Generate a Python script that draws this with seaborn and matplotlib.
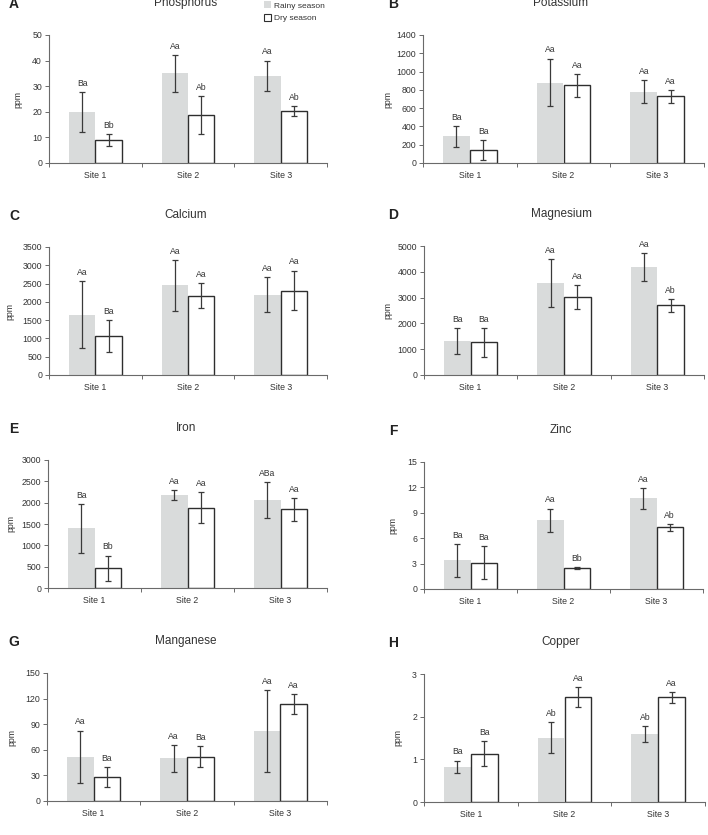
import numpy as np
import pandas as pd
import matplotlib
matplotlib.use("Agg")
import matplotlib.pyplot as plt
from matplotlib.patches import Patch
import seaborn as sns

sites = ["Site 1", "Site 2", "Site 3"]
seasons = ["Rainy season", "Dry season"]

minerals = ["Phosphorus", "Potassium", "Calcium", "Magnesium",
            "Iron", "Zinc", "Manganese", "Copper"]
letters = ["A", "B", "C", "D", "E", "F", "G", "H"]
ymax = [50, 1400, 3500, 5000, 3000, 15, 150, 3]
ystep = [10, 200, 500, 1000, 500, 3, 30, 1]

phosphorus_rainy = [20, 35, 34]
phosphorus_rainy_err = [7.8, 7.3, 6]
phosphorus_dry = [9, 18.8, 20.3]
phosphorus_dry_err = [2.4, 7.4, 2]
phosphorus_lbl = [["Ba", "Aa", "Aa"], ["Bb", "Ab", "Ab"]]

potassium_rainy = [290, 880, 780]
potassium_rainy_err = [118, 262, 125]
potassium_dry = [140, 850, 730]
potassium_dry_err = [112, 125, 70]
potassium_lbl = [["Ba", "Aa", "Aa"], ["Ba", "Aa", "Aa"]]

calcium_rainy = [1650, 2450, 2200]
calcium_rainy_err = [920, 700, 480]
calcium_dry = [1060, 2170, 2310]
calcium_dry_err = [440, 345, 545]
calcium_lbl = [["Aa", "Aa", "Aa"], ["Ba", "Aa", "Aa"]]

magnesium_rainy = [1320, 3580, 4180]
magnesium_rainy_err = [505, 925, 535]
magnesium_dry = [1270, 3010, 2700]
magnesium_dry_err = [560, 465, 245]
magnesium_lbl = [["Ba", "Aa", "Aa"], ["Ba", "Aa", "Ab"]]

iron_rainy = [1400, 2180, 2060]
iron_rainy_err = [570, 110, 420]
iron_dry = [460, 1880, 1840]
iron_dry_err = [300, 360, 275]
iron_lbl = [["Ba", "Aa", "ABa"], ["Bb", "Aa", "Aa"]]

zinc_rainy = [3.4, 8.1, 10.7]
zinc_rainy_err = [1.95, 1.4, 1.25]
zinc_dry = [3.1, 2.45, 7.3]
zinc_dry_err = [1.95, 0.1, 0.4]
zinc_lbl = [["Ba", "Aa", "Aa"], ["Ba", "Bb", "Ab"]]

manganese_rainy = [52, 50, 82]
manganese_rainy_err = [30.5, 16, 47.5]
manganese_dry = [28, 52, 114]
manganese_dry_err = [12, 12, 11.5]
manganese_lbl = [["Aa", "Aa", "Aa"], ["Ba", "Ba", "Aa"]]

copper_rainy = [0.82, 1.51, 1.59]
copper_rainy_err = [0.15, 0.36, 0.19]
copper_dry = [1.13, 2.45, 2.45]
copper_dry_err = [0.29, 0.235, 0.125]
copper_lbl = [["Ba", "Ab", "Ab"], ["Ba", "Aa", "Aa"]]

panels = [
    (phosphorus_rainy, phosphorus_rainy_err, phosphorus_dry, phosphorus_dry_err, phosphorus_lbl),
    (potassium_rainy, potassium_rainy_err, potassium_dry, potassium_dry_err, potassium_lbl),
    (calcium_rainy, calcium_rainy_err, calcium_dry, calcium_dry_err, calcium_lbl),
    (magnesium_rainy, magnesium_rainy_err, magnesium_dry, magnesium_dry_err, magnesium_lbl),
    (iron_rainy, iron_rainy_err, iron_dry, iron_dry_err, iron_lbl),
    (zinc_rainy, zinc_rainy_err, zinc_dry, zinc_dry_err, zinc_lbl),
    (manganese_rainy, manganese_rainy_err, manganese_dry, manganese_dry_err, manganese_lbl),
    (copper_rainy, copper_rainy_err, copper_dry, copper_dry_err, copper_lbl),
]

sns.set_theme(style="white")
plt.rcParams["font.family"] = ["Liberation Sans", "DejaVu Sans"]

W, H = 708, 835
fig = plt.figure(figsize=(W / 100, H / 100), dpi=100)

# axes boxes in pixels: left, top, right, bottom
boxes = [(49, 35, 327, 163), (423, 35, 704, 163),
         (49, 247, 327, 375), (424, 246, 704, 375),
         (48, 460, 327, 588), (424, 462, 703, 589),
         (47, 673, 327, 801), (424, 674, 705, 802)]
ylab_x = [22, 392, 14, 392, 15, 397, 16, 402]

grey = "#d9dbdb"
edge = "#2e2e2e"
axcol = "#6a6a6a"
txt = "#333333"

for i, (rv, re, dv, de, lbl) in enumerate(panels):
    l, t, r, b = boxes[i]
    ax = fig.add_axes([l / W, 1 - b / H, (r - l) / W, (b - t) / H])
    df = pd.DataFrame({
        "site": sites * 2,
        "season": [seasons[0]] * 3 + [seasons[1]] * 3,
        "value": rv + dv,
    })
    sns.barplot(data=df, x="site", y="value", hue="season", order=sites,
                hue_order=seasons, palette=[grey, "white"], width=0.57,
                errorbar=None, saturation=1, legend=False, ax=ax)
    for k, (cont, errs) in enumerate(zip(ax.containers, [re, de])):
        xs = [p.get_x() + p.get_width() / 2 for p in cont.patches]
        ys = [p.get_height() for p in cont.patches]
        for p in cont.patches:
            if k == 1:
                p.set_edgecolor(edge)
                p.set_linewidth(1.0)
            else:
                p.set_edgecolor("none")
        ax.errorbar(xs, ys, yerr=errs, fmt="none", ecolor="#3a3a3a",
                    elinewidth=0.9, capsize=2, capthick=0.9, zorder=5)
        for x, y, e, s in zip(xs, ys, errs, lbl[k]):
            ax.annotate(s, (x, y + e), xytext=(0, 3), textcoords="offset points",
                        ha="center", va="bottom", fontsize=6.2, color=txt)

    ax.set_ylim(0, ymax[i])
    ax.set_yticks(np.arange(0, ymax[i] + ystep[i] / 2, ystep[i]))
    ax.set_xlim(-0.5, 2.5)
    ax.set_xticks([0, 1, 2])
    ax.set_xticks([-0.5, 0.5, 1.5, 2.5], minor=True)
    ax.tick_params(axis="x", which="major", length=0, labelsize=6.3,
                   colors=txt, pad=6)
    ax.tick_params(axis="x", which="minor", length=3, width=0.7,
                   color=axcol, direction="out", bottom=True)
    ax.tick_params(axis="y", length=3, width=0.7, color=axcol,
                   labelsize=6.3, labelcolor=txt, pad=2, left=True)
    ax.set_xlabel("")
    ax.set_ylabel("ppm", fontsize=6.3, color=txt)
    ax.yaxis.set_label_coords((ylab_x[i] - l) / (r - l), 0.5)
    for side in ["top", "right"]:
        ax.spines[side].set_visible(False)
    for side in ["left", "bottom"]:
        ax.spines[side].set_color(axcol)
        ax.spines[side].set_linewidth(0.8)

    cx = 186 if i % 2 == 0 else 561
    fig.text(cx / W, 1 - (t - 32) / H, minerals[i], ha="center", va="center",
             fontsize=8.5, color=txt)
    lx = 14 if i % 2 == 0 else 393
    fig.text(lx / W, 1 - (t - 31) / H, letters[i], ha="center", va="center",
             fontsize=10, fontweight="bold", color="#222222")

handles = [Patch(facecolor=grey, edgecolor="none", label=seasons[0]),
           Patch(facecolor="white", edgecolor=edge, linewidth=0.8, label=seasons[1])]
fig.legend(handles=handles, loc="upper left", bbox_to_anchor=(256 / W, 1 + 6 / H),
           frameon=False, fontsize=6, handlelength=0.9, handleheight=0.9,
           handletextpad=0.4, labelspacing=0.5, labelcolor=txt)

fig.savefig("out.png", dpi=100)
